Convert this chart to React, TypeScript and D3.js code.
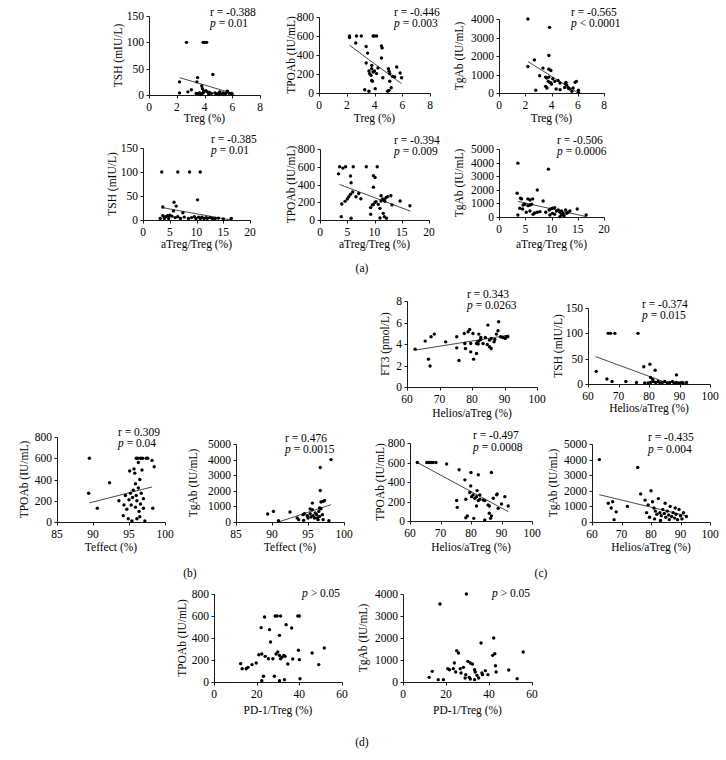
import React from 'react';
import * as d3 from 'd3';

type Pt = [number, number];

// ---------- tick labels ----------
const ticksTreg = [0, 2, 4, 6, 8];
const ticksATreg = [0, 5, 10, 15, 20];
const ticksHelios = [60, 70, 80, 90, 100];
const ticksTeff = [85, 90, 95, 100];
const ticksPD1 = [0, 20, 40, 60];
const ticksTSH = [0, 50, 100, 150];
const ticksTPO = [0, 200, 400, 600, 800];
const ticksTg4 = [0, 1000, 2000, 3000, 4000];
const ticksTg5 = [0, 1000, 2000, 3000, 4000, 5000];
const ticksFT3 = [0, 2, 4, 6, 8];

// ---------- data ----------
const a1Points: Pt[] = [
  [2.7, 100], [3.9, 100], [4.0, 100], [4.15, 100],
  [2.2, 25], [2.2, 4], [2.8, 6], [3.05, 10], [3.5, 33], [3.45, 25], [3.8, 17], [3.85, 12], [4.6, 39], [4.1, 8], [3.95, 7],
  [3.4, 3], [3.55, 3], [3.65, 4], [3.8, 2], [3.9, 4], [4.2, 6], [4.35, 5], [4.5, 3], [4.75, 4], [5.0, 3], [5.1, 6], [5.2, 2],
  [5.35, 4], [5.55, 3], [5.65, 7], [5.8, 3], [5.95, 3], [6.0, 2], [4.85, 2], [5.05, 1], [3.7, 1], [4.3, 2], [5.4, 1],
];
const a1Trend: Pt[] = [[2.2, 33], [6.05, 3]];

const a2Points: Pt[] = [
  [2.2, 600], [2.2, 585], [2.7, 600], [3.05, 600], [2.65, 527], [3.4, 490], [3.5, 420], [3.9, 600], [4.0, 600], [4.15, 600],
  [4.5, 495], [4.55, 475], [4.5, 368], [3.4, 316], [3.6, 232], [3.65, 204], [3.8, 291], [3.8, 256], [3.75, 186], [3.9, 221],
  [4.0, 232], [4.15, 204], [4.25, 263], [3.8, 133], [3.85, 123], [4.05, 46], [3.3, 35], [3.6, 18], [4.6, 161], [5.0, 256],
  [5.05, 228], [5.1, 204], [5.1, 123], [5.2, 56], [5.05, 28], [4.95, 18], [5.3, 175], [5.45, 168], [5.6, 274], [5.85, 211], [5.95, 161],
];
const a2Trend: Pt[] = [[2.2, 502], [5.95, 98]];

const a3Points: Pt[] = [
  [2.2, 4000], [3.85, 3550], [3.8, 2030], [2.7, 1790], [2.2, 1435], [3.35, 1345], [3.8, 1290], [3.95, 1220], [3.1, 930],
  [3.55, 860], [3.65, 810], [3.8, 860], [4.1, 770], [3.75, 630], [3.85, 575], [3.95, 540], [4.25, 630], [3.55, 360], [3.65, 270],
  [4.5, 680], [4.65, 540], [4.35, 215], [4.65, 180], [5.1, 575], [5.15, 450], [5.25, 320], [5.4, 215], [5.55, 90], [5.8, 575],
  [5.9, 630], [6.05, 145], [2.8, 145], [4.0, 480], [5.0, 300], [5.65, 270], [6.05, 36], [5.05, 500], [5.3, 250],
];
const a3Trend: Pt[] = [[2.2, 1700], [5.95, 40]];

const a4Points: Pt[] = [
  [3.5, 100], [6.5, 100], [8.7, 100], [10.7, 100], [3.7, 27], [5.8, 37], [6.2, 29], [10.2, 42], [5.7, 19], [7.45, 15],
  [3.7, 9], [4.2, 7], [4.6, 9], [5.0, 10], [5.4, 8], [3.2, 3], [4.0, 3], [4.8, 3], [6.0, 5], [6.5, 7], [7.0, 3], [7.7, 6],
  [8.5, 3], [9.1, 5], [9.6, 7], [9.9, 3], [10.4, 6], [10.7, 3], [11.0, 6], [11.4, 3], [11.8, 5], [12.0, 3], [12.5, 5],
  [13.0, 3], [13.5, 3], [14.1, 4], [15.0, 2], [16.5, 3],
];
const a4Trend: Pt[] = [[3.5, 26], [16.5, 0]];

const a5Points: Pt[] = [
  [3.4, 520], [3.6, 600], [4.2, 585], [4.7, 600], [6.1, 600], [8.5, 600], [10.5, 600], [5.6, 495], [5.7, 420],
  [4.0, 180], [4.6, 210], [5.0, 236], [5.3, 262], [5.6, 290], [6.0, 315], [6.6, 262], [7.1, 298], [7.5, 240],
  [9.3, 140], [9.6, 170], [10.1, 200], [9.8, 176], [9.8, 500], [10.1, 480], [9.8, 370], [10.3, 207], [10.7, 176],
  [11.2, 274], [11.5, 236], [11.8, 225], [12.1, 251], [12.4, 263], [13.0, 274], [11.0, 131], [9.3, 64], [11.6, 75],
  [11.8, 38], [12.2, 19], [11.9, 210], [11.2, 214], [14.7, 214], [16.5, 160], [3.9, 38], [5.7, 19], [13.2, 170], [11.0, 22],
];
const a5Trend: Pt[] = [[3.6, 400], [16.6, 100]];

const a6Points: Pt[] = [
  [3.6, 3960], [9.4, 3520], [7.3, 1990], [3.45, 1750], [4.1, 1380], [4.3, 1330], [5.5, 1330], [5.9, 1250], [6.4, 1330],
  [8.4, 1180], [4.6, 885], [4.9, 935], [5.5, 835], [5.9, 885], [6.2, 935], [3.95, 640], [4.5, 590], [5.2, 345], [5.9, 440],
  [6.5, 200], [6.8, 295], [7.3, 345], [7.8, 395], [8.9, 345], [9.55, 515], [9.8, 590], [10.2, 640], [10.6, 690], [10.95, 440],
  [9.7, 150], [10.2, 270], [10.6, 200], [11.3, 515], [11.6, 345], [11.9, 440], [12.2, 270], [12.7, 515], [12.9, 270],
  [13.2, 345], [13.5, 440], [11.9, 150], [12.4, 100], [11.6, 25], [14.9, 590], [16.6, 150], [3.6, 150],
];
const a6Trend: Pt[] = [[3.6, 1150], [16.6, 30]];

const c1Points: Pt[] = [
  [62.5, 3.52], [65.6, 4.27], [67.4, 4.67], [68.4, 4.92], [66.6, 2.59], [67.1, 1.96], [71.9, 4.2], [75.3, 4.67], [75.3, 3.64],
  [76.0, 2.46], [77.6, 4.98], [77.8, 4.05], [78.0, 3.58], [78.8, 5.14], [79.3, 5.36], [79.6, 4.05], [79.6, 3.27], [80.3, 4.98],
  [80.5, 2.59], [81.4, 4.05], [81.7, 4.2], [81.9, 3.99], [81.4, 3.12], [82.1, 4.27], [82.7, 4.42], [82.1, 4.92], [82.7, 4.61],
  [83.4, 4.05], [84.1, 4.61], [84.7, 3.96], [84.9, 5.76], [85.4, 4.36], [85.9, 4.52], [85.4, 3.74], [85.9, 3.58], [86.8, 4.2],
  [87.0, 4.42], [87.5, 4.92], [88.0, 5.23], [88.2, 6.07], [88.8, 4.67], [89.5, 4.61], [90.2, 4.52], [90.5, 4.67], [91.0, 4.67],
];
const c1Trend: Pt[] = [[62.5, 3.43], [91.5, 4.83]];

const c2Points: Pt[] = [
  [62.7, 25], [66.2, 10], [66.6, 100], [67.4, 100], [68.8, 100], [76.4, 100], [67.9, 5], [72.4, 5], [75.9, 3], [78.3, 34],
  [80.3, 39], [82.0, 27], [80.5, 13], [81.2, 9], [89.0, 18], [78.6, 2], [79.7, 2], [80.5, 3], [81.4, 5], [82.2, 3], [83.0, 5],
  [83.6, 2], [84.4, 3], [85.2, 5], [86.0, 2], [86.8, 3], [87.7, 5], [88.2, 2], [89.0, 3], [89.9, 2], [90.7, 3], [91.2, 2], [92.3, 3],
];
const c2Trend: Pt[] = [[62.5, 54], [86, 2]];

const b1Points: Pt[] = [
  [89.5, 600], [89.4, 270], [90.6, 130], [92.3, 370], [93.6, 200], [94.2, 60], [94.3, 160], [94.5, 250], [94.7, 120], [94.9, 30],
  [95.0, 210], [95.1, 480], [95.2, 270], [95.3, 160], [95.4, 10], [95.5, 230], [95.6, 300], [95.7, 500], [95.8, 460], [95.9, 140],
  [96.0, 600], [96.0, 250], [96.1, 200], [96.1, 30], [96.2, 600], [96.3, 560], [96.3, 320], [96.4, 100], [96.5, 400], [96.5, 50],
  [96.6, 600], [96.7, 270], [96.8, 490], [96.9, 600], [97.0, 220], [97.2, 10], [97.4, 600], [97.6, 600], [97.0, 130], [96.6, 170],
  [95.9, 360], [98.2, 580], [98.5, 520], [98.3, 130],
];
const b1Trend: Pt[] = [[89.5, 180], [98.2, 330]];

const b2Points: Pt[] = [
  [89.4, 510], [90.2, 680], [90.9, 85], [92.5, 640], [93.7, 150], [94.4, 106], [94.3, 470], [94.5, 530], [94.9, 400], [95.0, 255],
  [95.3, 530], [95.4, 320], [95.6, 790], [95.7, 400], [95.9, 255], [96.0, 575], [96.2, 470], [96.3, 255], [96.4, 150], [96.5, 680],
  [96.6, 895], [96.8, 850], [96.7, 3490], [96.7, 2020], [96.8, 1280], [97.1, 1320], [97.3, 1385], [96.6, 360], [97.0, 470],
  [97.1, 150], [97.9, 85], [95.3, 830], [95.6, 1210], [93.5, 255], [98.2, 4000],
];
const b2Trend: Pt[] = [[90.9, 0], [98.2, 1110]];

const c3Points: Pt[] = [
  [62.4, 600], [65.5, 600], [66.2, 600], [66.9, 600], [67.6, 600], [68.5, 600], [72.0, 584], [76.1, 525], [75.3, 210], [75.5, 140],
  [78.0, 422], [80.0, 498], [82.4, 474], [86.7, 498], [79.9, 360], [79.6, 292], [78.3, 223], [80.2, 250], [80.7, 268], [81.3, 233],
  [81.8, 250], [82.0, 312], [82.4, 209], [82.9, 223], [82.9, 268], [84.0, 216], [84.5, 209], [81.8, 154], [85.6, 165], [86.0, 154],
  [87.3, 233], [88.4, 268], [88.6, 278], [88.9, 130], [90.0, 175], [91.1, 250], [92.2, 154], [78.3, 34], [78.8, 51], [80.9, 27],
  [84.5, 10], [86.4, 27], [86.7, 51], [86.0, 79],
];
const c3Trend: Pt[] = [[62.4, 600], [92.2, 96]];

const c4Points: Pt[] = [
  [62.5, 4000], [65.5, 1200], [66.5, 900], [67.0, 1300], [67.5, 150], [68.2, 650], [72.0, 1000], [75.5, 3500], [76.5, 1800],
  [78.0, 1400], [79.0, 1100], [80.0, 2000], [80.5, 1300], [81.0, 900], [81.5, 700], [82.0, 500], [82.5, 1500], [83.0, 600],
  [83.5, 400], [84.0, 800], [84.5, 550], [85.0, 300], [85.5, 700], [86.0, 450], [86.5, 1000], [87.0, 350], [87.5, 600],
  [88.0, 250], [88.5, 500], [89.0, 150], [89.5, 800], [90.0, 400], [90.5, 200], [91.0, 600], [92.0, 350], [78.5, 600],
  [79.5, 300], [81.2, 200], [83.2, 100], [84.8, 1200], [86.2, 150], [88.2, 900],
];
const c4Trend: Pt[] = [[62.5, 1750], [92, 400]];

const d1Points: Pt[] = [
  [12.5, 167], [13.2, 121], [15.1, 121], [15.9, 133], [17.8, 158], [19.8, 173], [21.0, 248], [22.4, 255], [23.7, 591], [22.1, 494],
  [24.0, 233], [26.0, 476], [26.5, 364], [25.5, 212], [27.6, 212], [28.7, 600], [29.6, 600], [31.2, 600], [30.7, 424], [29.1, 255],
  [29.9, 273], [30.7, 242], [31.2, 212], [31.8, 224], [32.7, 242], [33.3, 233], [33.8, 521], [34.6, 164], [36.4, 491], [36.9, 209],
  [39.3, 600], [40.0, 600], [39.6, 288], [40.0, 203], [46.0, 264], [49.1, 158], [51.7, 309], [23.2, 52], [22.4, 12], [28.3, 52],
  [30.7, 12], [33.0, 21], [40.3, 30],
];

const d2Points: Pt[] = [
  [17.2, 3545], [29.5, 4000], [12.2, 212], [13.6, 485], [16.4, 106], [18.8, 106], [20.8, 606], [21.6, 560], [23.4, 606], [23.9, 864],
  [24.5, 455], [25.0, 1424], [25.8, 1318], [26.6, 606], [27.0, 409], [28.1, 667], [29.2, 333], [30.2, 939], [30.8, 212], [31.3, 136],
  [31.3, 864], [32.3, 818], [33.3, 560], [33.6, 455], [34.4, 303], [35.2, 182], [36.3, 1773], [36.7, 409], [37.0, 333], [38.3, 515],
  [39.5, 333], [42.2, 2000], [41.7, 1212], [42.7, 1288], [43.0, 742], [43.3, 455], [49.2, 545], [53.1, 152], [55.9, 1364],
  [28.9, 182], [33.3, 106],
];

// ---------- layout ----------
interface Spec {
  pts: Pt[]; trend?: Pt[];
  xd: [number, number]; yd: [number, number]; xt: number[]; yt: number[];
  l: number; r: number; t: number; b: number;
  xTitle: string; yTitle: string; xTitleY: number; yLabX: number;
  rTxt?: string; pTxt: string; pOp: string; sx: number; ry: number; py: number;
}

const specs: Spec[] = [
  { pts: a1Points, trend: a1Trend, xd: [0, 8], yd: [0, 150], xt: ticksTreg, yt: ticksTSH, l: 149, r: 260, t: 16, b: 95,
    xTitle: 'Treg (%)', yTitle: 'TSH (mIU/L)', xTitleY: 118, yLabX: 118, rTxt: 'r = -0.388', pOp: '=', pTxt: '0.01', sx: 210, ry: 12, py: 23 },
  { pts: a2Points, trend: a2Trend, xd: [0, 8], yd: [0, 800], xt: ticksTreg, yt: ticksTPO, l: 319, r: 430, t: 17, b: 93,
    xTitle: 'Treg (%)', yTitle: 'TPOAb (IU/mL)', xTitleY: 118, yLabX: 291, rTxt: 'r = -0.446', pOp: '=', pTxt: '0.003', sx: 394, ry: 12, py: 23 },
  { pts: a3Points, trend: a3Trend, xd: [0, 8], yd: [0, 4000], xt: ticksTreg, yt: ticksTg4, l: 499, r: 604, t: 19, b: 93,
    xTitle: 'Treg (%)', yTitle: 'TgAb (IU/mL)', xTitleY: 118, yLabX: 459, rTxt: 'r = -0.565', pOp: '<', pTxt: '0.0001', sx: 571, ry: 12, py: 23 },
  { pts: a4Points, trend: a4Trend, xd: [0, 20], yd: [0, 150], xt: ticksATreg, yt: ticksTSH, l: 143, r: 250, t: 148, b: 220,
    xTitle: 'aTreg/Treg (%)', yTitle: 'TSH (mIU/L)', xTitleY: 243.5, yLabX: 112, rTxt: 'r = -0.385', pOp: '=', pTxt: '0.01', sx: 211, ry: 139, py: 150 },
  { pts: a5Points, trend: a5Trend, xd: [0, 20], yd: [0, 800], xt: ticksATreg, yt: ticksTPO, l: 320, r: 429, t: 149, b: 220,
    xTitle: 'aTreg/Treg (%)', yTitle: 'TPOAb (IU/mL)', xTitleY: 243.5, yLabX: 291, rTxt: 'r = -0.394', pOp: '=', pTxt: '0.009', sx: 394, ry: 140, py: 151 },
  { pts: a6Points, trend: a6Trend, xd: [0, 20], yd: [0, 5000], xt: ticksATreg, yt: ticksTg5, l: 499, r: 604, t: 149, b: 217,
    xTitle: 'aTreg/Treg (%)', yTitle: 'TgAb (IU/mL)', xTitleY: 243.5, yLabX: 459, rTxt: 'r = -0.506', pOp: '=', pTxt: '0.0006', sx: 557, ry: 140, py: 151 },
  { pts: c1Points, trend: c1Trend, xd: [60, 100], yd: [0, 8], xt: ticksHelios, yt: ticksFT3, l: 407, r: 537, t: 301, b: 387,
    xTitle: 'Helios/aTreg (%)', yTitle: 'FT3 (pmol/L)', xTitleY: 413, yLabX: 385, rTxt: 'r = 0.343', pOp: '=', pTxt: '0.0263', sx: 467, ry: 294, py: 305 },
  { pts: c2Points, trend: c2Trend, xd: [60, 100], yd: [0, 150], xt: ticksHelios, yt: ticksTSH, l: 588, r: 710, t: 308, b: 384,
    xTitle: 'Helios/aTreg (%)', yTitle: 'TSH (mIU/L)', xTitleY: 408, yLabX: 558, rTxt: 'r = -0.374', pOp: '=', pTxt: '0.015', sx: 642, ry: 304, py: 315 },
  { pts: b1Points, trend: b1Trend, xd: [85, 100], yd: [0, 800], xt: ticksTeff, yt: ticksTPO, l: 57, r: 165, t: 437, b: 522,
    xTitle: 'Teffect (%)', yTitle: 'TPOAb (IU/mL)', xTitleY: 547, yLabX: 24, rTxt: 'r = 0.309', pOp: '=', pTxt: '0.04', sx: 118, ry: 432, py: 443 },
  { pts: b2Points, trend: b2Trend, xd: [85, 100], yd: [0, 5000], xt: ticksTeff, yt: ticksTg5, l: 236, r: 344, t: 444, b: 522,
    xTitle: 'Teffect (%)', yTitle: 'TgAb (IU/mL)', xTitleY: 547, yLabX: 193, rTxt: 'r = 0.476', pOp: '=', pTxt: '0.0015', sx: 285, ry: 438, py: 449 },
  { pts: c3Points, trend: c3Trend, xd: [60, 100], yd: [0, 800], xt: ticksHelios, yt: ticksTPO, l: 410, r: 532, t: 443, b: 521,
    xTitle: 'Helios/aTreg (%)', yTitle: 'TPOAb (IU/mL)', xTitleY: 547, yLabX: 380, rTxt: 'r = -0.497', pOp: '=', pTxt: '0.0008', sx: 473, ry: 435, py: 447 },
  { pts: c4Points, trend: c4Trend, xd: [60, 100], yd: [0, 5000], xt: ticksHelios, yt: ticksTg5, l: 592, r: 710, t: 444, b: 522,
    xTitle: 'Helios/aTreg (%)', yTitle: 'TgAb (IU/mL)', xTitleY: 547, yLabX: 553, rTxt: 'r = -0.435', pOp: '=', pTxt: '0.004', sx: 648, ry: 437, py: 449 },
  { pts: d1Points, xd: [0, 60], yd: [0, 800], xt: ticksPD1, yt: ticksTPO, l: 214, r: 342, t: 594, b: 682,
    xTitle: 'PD-1/Treg (%)', yTitle: 'TPOAb (IU/mL)', xTitleY: 710, yLabX: 182, pOp: '>', pTxt: '0.05', sx: 302, ry: 0, py: 593 },
  { pts: d2Points, xd: [0, 60], yd: [0, 4000], xt: ticksPD1, yt: ticksTg4, l: 403, r: 532, t: 594, b: 682,
    xTitle: 'PD-1/Treg (%)', yTitle: 'TgAb (IU/mL)', xTitleY: 710, yLabX: 363, pOp: '>', pTxt: '0.05', sx: 492, ry: 0, py: 593 },
];

const panelLetters: { t: string; x: number; y: number }[] = [
  { t: '(a)', x: 362, y: 268 },
  { t: '(b)', x: 190, y: 573 },
  { t: '(c)', x: 541, y: 573 },
  { t: '(d)', x: 362, y: 742 },
];

const FONT = '"Liberation Serif", "Times New Roman", serif';
const FS = 11.5;
const INK = '#1a1a1a';

function Panel({ s }: { s: Spec }) {
  const x = d3.scaleLinear().domain(s.xd).range([s.l, s.r]);
  const y = d3.scaleLinear().domain(s.yd).range([s.b, s.t]);
  const line = d3.line<Pt>().x((d) => x(d[0])).y((d) => y(d[1]));
  const px = (v: number) => Math.round(v) + 0.5;
  const xa = px(s.l);
  const ya = px(s.b);
  return (
    <g>
      <line x1={xa} x2={px(s.r)} y1={ya} y2={ya} stroke={INK} strokeWidth={1} />
      <line x1={xa} x2={xa} y1={px(s.t)} y2={ya} stroke={INK} strokeWidth={1} />
      {s.xt.map((v) => (
        <g key={'x' + v}>
          <line x1={px(x(v))} x2={px(x(v))} y1={ya} y2={ya + 3} stroke={INK} />
          <text x={x(v)} y={s.b + 12} textAnchor="middle" dominantBaseline="central">{v}</text>
        </g>
      ))}
      {s.yt.map((v) => (
        <g key={'y' + v}>
          <line x1={xa - 3} x2={xa} y1={px(y(v))} y2={px(y(v))} stroke={INK} />
          <text x={s.l - 5} y={y(v)} textAnchor="end" dominantBaseline="central">{v}</text>
        </g>
      ))}
      {s.trend && <path d={line(s.trend) || ''} fill="none" stroke="#333" strokeWidth={0.9} />}
      {s.pts.map((d, i) => (
        <circle key={i} cx={x(d[0])} cy={y(d[1])} r={1.7} fill="#000" />
      ))}
      <text x={(s.l + s.r) / 2} y={s.xTitleY} textAnchor="middle" dominantBaseline="central">{s.xTitle}</text>
      <text transform={`translate(${s.yLabX},${(s.t + s.b) / 2}) rotate(-90)`} textAnchor="middle" dominantBaseline="central">{s.yTitle}</text>
      {s.rTxt && <text x={s.sx} y={s.ry} dominantBaseline="central">{s.rTxt}</text>}
      <text x={s.sx} y={s.py} dominantBaseline="central">
        <tspan fontStyle="italic">p</tspan>{` ${s.pOp} ${s.pTxt}`}
      </text>
    </g>
  );
}

export default function App() {
  return (
    <svg
      width={726}
      height={760}
      style={{ position: 'absolute', left: 0, top: 0, background: '#fff' }}
      fontFamily={FONT}
      fontSize={FS}
      fill="#000"
    >
      <rect width={726} height={760} fill="#fff" />
      {specs.map((s, i) => (
        <Panel key={i} s={s} />
      ))}
      {panelLetters.map((p) => (
        <text key={p.t} x={p.x} y={p.y} textAnchor="middle" dominantBaseline="central">{p.t}</text>
      ))}
    </svg>
  );
}
